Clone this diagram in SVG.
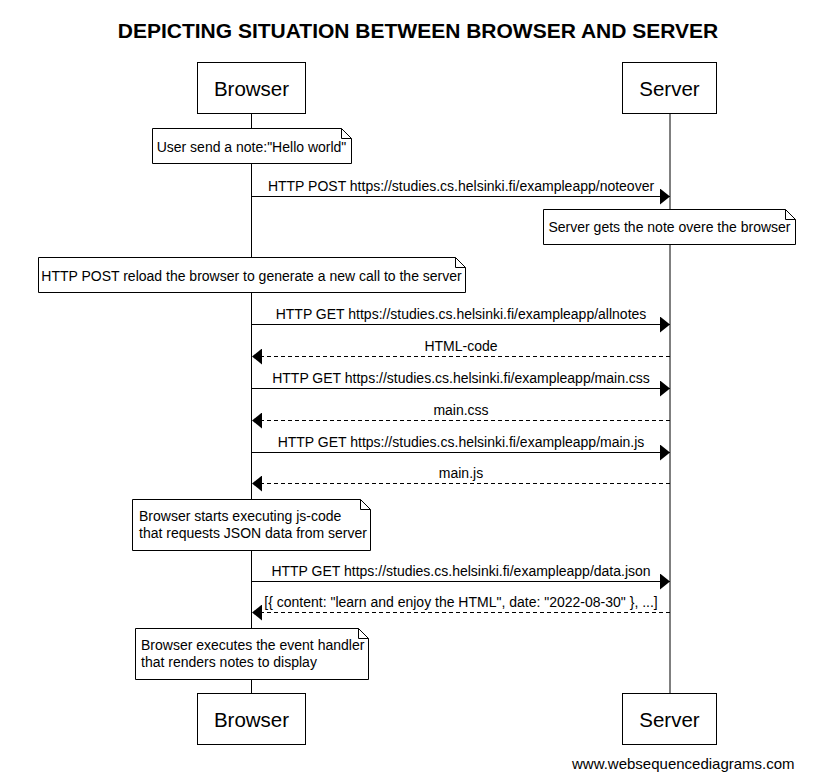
<svg xmlns="http://www.w3.org/2000/svg" width="826" height="774" viewBox="0 0 826 774">
<style>
text{font-family:"Liberation Sans",Arial,sans-serif;fill:#000}
.title{font-size:21px;font-weight:bold;text-anchor:middle}
.actor rect{fill:#fff;stroke:#000;stroke-width:1}
.actor text{font-size:20.5px;text-anchor:middle}
.life{stroke:#000;stroke-width:1;fill:none}
.note path{fill:#fff;stroke:#000;stroke-width:1}
.note text{font-size:14px}
.c{text-anchor:middle}
.msg line{stroke:#000;stroke-width:1;marker-end:url(#ah)}
.msg line.ret{stroke-dasharray:4,3}
.msg text{font-size:14px;text-anchor:middle}
.foot{font-size:15px}
</style>
<defs>
<marker id="ah" markerUnits="userSpaceOnUse" markerWidth="10" markerHeight="16" refX="10" refY="8" orient="auto" viewBox="0 0 10 16">
<path d="M0,0 L10,8 L0,16 Z" fill="#000"/>
</marker>
</defs>
<rect width="826" height="774" fill="#fff"/>
<text class="title" x="418" y="38">DEPICTING SITUATION BETWEEN BROWSER AND SERVER</text>

<g id="lifelines">
<line class="life" x1="251.5" y1="114" x2="251.5" y2="693"/>
<line class="life" x1="670" y1="114" x2="670" y2="693"/>
</g>

<g id="browser-top" class="actor">
<rect x="197.5" y="62.5" width="108" height="51"/>
<text x="251.5" y="96">Browser</text>
</g>
<g id="server-top" class="actor">
<rect x="622.5" y="62.5" width="94" height="51"/>
<text x="669.5" y="96">Server</text>
</g>

<g id="connectors" class="msg">
<line x1="252" y1="196.5" x2="670" y2="196.5"/>
<text x="461" y="191">HTTP POST https://studies.cs.helsinki.fi/exampleapp/noteover</text>
<line x1="252" y1="324.5" x2="670" y2="324.5"/>
<text x="461" y="319">HTTP GET https://studies.cs.helsinki.fi/exampleapp/allnotes</text>
<line class="ret" x1="670" y1="356.5" x2="252" y2="356.5"/>
<text x="461" y="351">HTML-code</text>
<line x1="252" y1="388.5" x2="670" y2="388.5"/>
<text x="461" y="383">HTTP GET https://studies.cs.helsinki.fi/exampleapp/main.css</text>
<line class="ret" x1="670" y1="420.5" x2="252" y2="420.5"/>
<text x="461" y="415">main.css</text>
<line x1="252" y1="452.5" x2="670" y2="452.5"/>
<text x="461" y="447">HTTP GET https://studies.cs.helsinki.fi/exampleapp/main.js</text>
<line class="ret" x1="670" y1="483.5" x2="252" y2="483.5"/>
<text x="461" y="478">main.js</text>
<line x1="252" y1="581.5" x2="670" y2="581.5"/>
<text x="461" y="576">HTTP GET https://studies.cs.helsinki.fi/exampleapp/data.json</text>
<line class="ret" x1="670" y1="612.5" x2="252" y2="612.5"/>
<text x="461" y="607">[{ content: "learn and enjoy the HTML", date: "2022-08-30" }, ...]</text>
</g>

<g id="note1" class="note">
<path d="M152.5,128.5 H341.5 L351.5,138.5 V163.5 H152.5 Z M341.5,128.5 V138.5 H351.5"/>
<text class="c" x="251.5" y="152">User send a note:"Hello world"</text>
</g>
<g id="note2" class="note">
<path d="M543.5,209.5 H785.5 L795.5,219.5 V244.5 H543.5 Z M785.5,209.5 V219.5 H795.5"/>
<text class="c" x="669.5" y="232">Server gets the note overe the browser</text>
</g>
<g id="note3" class="note">
<path d="M38.5,257.5 H455.5 L465.5,267.5 V292.5 H38.5 Z M455.5,257.5 V267.5 H465.5"/>
<text class="c" x="251.5" y="280.5">HTTP POST reload the browser to generate a new call to the server</text>
</g>
<g id="note4" class="note">
<path d="M132.5,499.5 H360.5 L370.5,509.5 V550.5 H132.5 Z M360.5,499.5 V509.5 H370.5"/>
<text x="139" y="520.5">Browser starts executing js-code</text>
<text x="139" y="538">that requests JSON data from server</text>
</g>
<g id="note5" class="note">
<path d="M135.5,628.5 H358.5 L368.5,638.5 V679.5 H135.5 Z M358.5,628.5 V638.5 H368.5"/>
<text x="141" y="649.5">Browser executes the event handler</text>
<text x="141" y="667">that renders notes to display</text>
</g>

<g id="browser-bottom" class="actor">
<rect x="197.5" y="693.5" width="108" height="51"/>
<text x="251.5" y="727">Browser</text>
</g>
<g id="server-bottom" class="actor">
<rect x="622.5" y="693.5" width="94" height="51"/>
<text x="669.5" y="727">Server</text>
</g>

<text class="foot" x="572" y="769">www.websequencediagrams.com</text>
</svg>
